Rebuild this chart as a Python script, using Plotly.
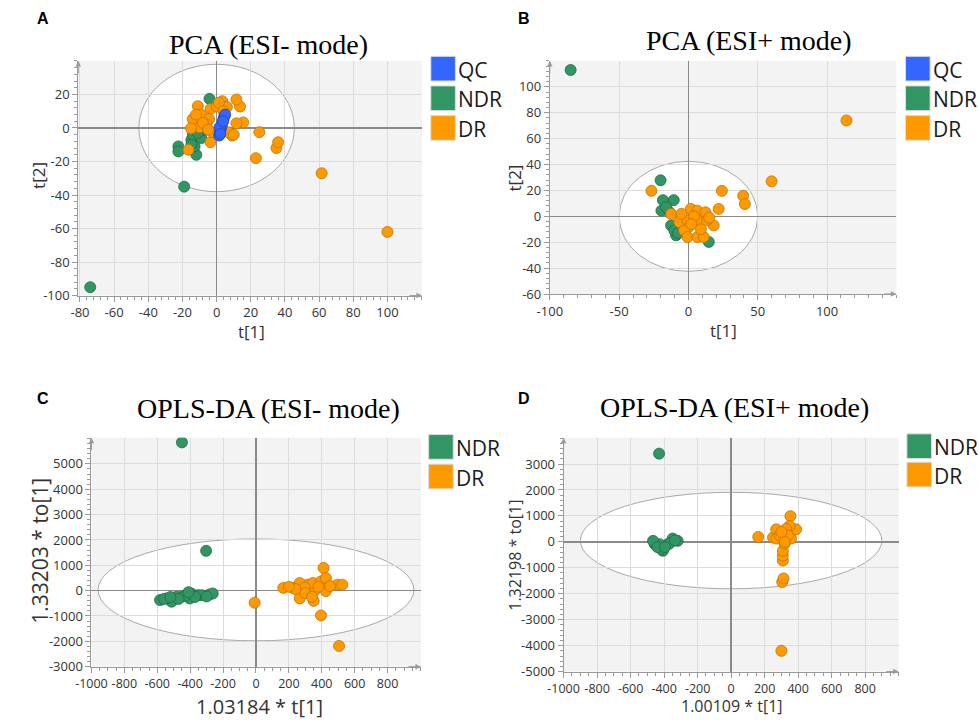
import plotly.graph_objects as go

# ---------------- DATA ----------------
# Panel A : PCA (ESI- mode)
A_NDR_x = [-74, -19, -4.2, -22.4, -22.4, -11.9, -14.8, -13.9, -10, -9, -12.9, -14.8, -7, -11]
A_NDR_y = [-95, -35, 17.4, -11, -14, -16, -7.1, -4.2, -3.2, -6, -11, -10, -1, -3]
A_DR_x = [100, 61.5, 23, 35, 36, 25, 15.6, 11.6, 13.7, 11.6, 3.3, 9, -16.5, -3.6, -11, -9.2,
          -3.5, 0, -14, -10, -15, -4.4, -2.5, 6, 1.3, 7, -6, -12, 4, 10, -8, -5]
A_DR_y = [-62, -27, -18, -12, -8.5, -2.5, 3.3, 2.8, 12.8, 17, 16, -4.5, -13, -8.5, 13, 8,
          11.4, 12.8, 5.3, 0.4, -0.2, 5.3, -2.5, 12.5, 15, -2.6, 2, 8, 10, -4, 3, -1]
A_QC_x = [1.5, 2, 2.5, 3, 3.5, 4, 4.5, 5, 1.8, 2.2, 3.8]
A_QC_y = [-4.5, -2.5, -0.5, 1.5, 3.5, 5.5, 7, 8, 0.5, -3.5, 4]

# Panel B : PCA (ESI+ mode)
B_NDR_x = [-85, -20.1, -18.4, -10.6, -19.5, -13.7, -12.5, -8.9, 14.7, -10.2, -16, -7.5]
B_NDR_y = [113, 27.8, 12.5, 12.5, 4.4, 3.1, -7, -14.7, -19.8, -10.9, 7, -13]
B_DR_x = [114, 60, 24.1, 39.5, 40.7, 21.8, -26.7, -12.5, -6.6, 1.7, 6.4, 12.3, 6.4, -0.7,
          18.2, 13.5, 0.5, -3.1, -0.7, 6.4, 11, 4, 9, -5, 2, 15]
B_DR_y = [74, 27, 19.7, 15.9, 9.5, 5.7, 19.7, 1.8, -4.5, 5.7, 4.4, 3.1, -2.9, -3,
          -7, -3, -8, -10.9, -16, -16, -16, 0, -10, 2, -6, -1]

# Panel C : OPLS-DA (ESI- mode)
C_NDR_x = [-450, -303, -583, -513, -453, -393, -353, -283, -263, -403, -483, -543, -330, -430,
           -560, -470, -370, -300, -520, -410]
C_NDR_y = [5850, 1570, -371, -437, -243, -114, -179, -153, -114, -308, -243, -308, -180, -200,
           -330, -330, -250, -230, -250, -60]
C_DR_x = [-8, 505, 395, 411, 166, 226, 266, 276, 316, 355, 351, 405, 425, 495, 525, 266,
          346, 396, 425, 296, 240, 380, 450, 300, 340, 200]
C_DR_y = [-476, -2184, -980, 895, 107, 107, -308, 236, 236, -17, -405, 236, -17, 235, 235, 300,
          300, 365, 495, 120, 60, 150, 180, -100, -250, 150]

# Panel D : OPLS-DA (ESI+ mode)
D_NDR_x = [-430, -456, -407, -378, -319, -349, -427, -417, -368, -466, -440, -395, -335]
D_NDR_y = [3400, -89, -343, -89, 38, 127, -89, -280, -63, 38, -200, -200, 60]
D_DR_x = [300, 305, 313, 309, 309, 309, 354, 162, 250, 269, 388, 349, 270, 309, 329, 358,
          319, 290, 339, 320, 300]
D_DR_y = [-4200, -1549, -1410, -724, -533, -350, 991, 190, 165, 483, 483, 610, 125, 250, 505, 125,
          -70, 250, 250, 0, 380]

# confidence ellipses (center x, center y, radius x, radius y)
A_ELL = [0, 0, 45.5, 38]
B_ELL = [0, 0, 50, 42.5]
C_ELL = [0, 30, 960, 2010]
D_ELL = [0, 50, 900, 1860]

# tick values
A_XT = [-80, -60, -40, -20, 0, 20, 40, 60, 80, 100]
A_YT = [-100, -80, -60, -40, -20, 0, 20]
B_XT = [-100, -50, 0, 50, 100]
B_YT = [-60, -40, -20, 0, 20, 40, 60, 80, 100]
C_XT = [-1000, -800, -600, -400, -200, 0, 200, 400, 600, 800]
C_YT = [-3000, -2000, -1000, 0, 1000, 2000, 3000, 4000, 5000]
D_XT = [-1000, -800, -600, -400, -200, 0, 200, 400, 600, 800]
D_YT = [-5000, -4000, -3000, -2000, -1000, 0, 1000, 2000, 3000]

# ---------------- STYLE ----------------
W, H = 979, 727
BLUE, BLUE_L = "#3366FF", "#2244BB"
GREEN, GREEN_L = "#329664", "#1E6B45"
ORANGE, ORANGE_L = "#FF9900", "#C27400"
GRID = "#DCDCDC"
ZERO = "#8A8A8A"
LINE = "#9A9A9A"
BG = "#F3F3F3"


def px(x):
    return x / W


def py(y):
    return 1 - y / H


def axis(dom, rng, tvals, minor_dtick, anchor, fsize=13):
    return dict(
        domain=dom, range=rng, tickmode="array", tickvals=tvals,
        ticktext=[str(v) for v in tvals], tickangle=0,
        showgrid=True, gridcolor=GRID, gridwidth=1,
        zeroline=True, zerolinecolor=ZERO, zerolinewidth=1.5,
        showline=True, linecolor=LINE, linewidth=1,
        ticks="outside", ticklen=5, tickcolor=LINE,
        minor=dict(ticks="outside", ticklen=3, tickcolor=LINE, dtick=minor_dtick,
                   tick0=0, showgrid=False),
        tickfont=dict(family="Open Sans", size=fsize, color="#333333"),
        anchor=anchor, fixedrange=True,
    )


fig = go.Figure()

panels = [
    ("x", "y", [(A_NDR_x, A_NDR_y, GREEN, GREEN_L), (A_DR_x, A_DR_y, ORANGE, ORANGE_L),
                (A_QC_x, A_QC_y, BLUE, BLUE_L)]),
    ("x2", "y2", [(B_NDR_x, B_NDR_y, GREEN, GREEN_L), (B_DR_x, B_DR_y, ORANGE, ORANGE_L)]),
    ("x3", "y3", [(C_NDR_x, C_NDR_y, GREEN, GREEN_L), (C_DR_x, C_DR_y, ORANGE, ORANGE_L)]),
    ("x4", "y4", [(D_NDR_x, D_NDR_y, GREEN, GREEN_L), (D_DR_x, D_DR_y, ORANGE, ORANGE_L)]),
]
for xa, ya, groups in panels:
    for xs, ys, c, lc in groups:
        fig.add_trace(go.Scatter(
            x=xs, y=ys, mode="markers", xaxis=xa, yaxis=ya, showlegend=False,
            marker=dict(size=11, color=c, line=dict(color=lc, width=0.8)),
            hoverinfo="skip"))

# ---------------- LAYOUT ----------------
dom = {
    "A": ([px(63.3), px(412.7)], [py(299.3), py(61.7)]),
    "B": ([px(542.7), px(895)], [py(297.7), py(61.7)]),
    "C": ([px(76.7), px(411.7)], [py(675), py(443.3)]),
    "D": ([px(556.7), px(897.3)], [py(680), py(443.3)]),
}

layout = dict(
    width=W, height=H, margin=dict(l=0, r=0, t=0, b=0),
    paper_bgcolor="white", plot_bgcolor=BG, showlegend=False,
    xaxis=axis(dom["A"][0], [-81, 120.2], A_XT, 4, "y"),
    yaxis=axis(dom["A"][1], [-100, 40], A_YT, 4, "x"),
    xaxis2=axis(dom["B"][0], [-100, 150], B_XT, 10, "y2"),
    yaxis2=axis(dom["B"][1], [-60, 120], B_YT, 4, "x2"),
    xaxis3=axis(dom["C"][0], [-1000, 1003], C_XT, 50, "y3", 12.5),
    yaxis3=axis(dom["C"][1], [-3000, 6030], C_YT, 200, "x3"),
    xaxis4=axis(dom["D"][0], [-1000, 1000], D_XT, 50, "y4", 12.5),
    yaxis4=axis(dom["D"][1], [-5000, 4010], D_YT, 200, "x4"),
)
fig.update_layout(**layout)

# ellipses
shapes = []
for (cx, cy, rx, ry), xr, yr in [(A_ELL, "x", "y"), (B_ELL, "x2", "y2"),
                                 (C_ELL, "x3", "y3"), (D_ELL, "x4", "y4")]:
    shapes.append(dict(type="circle", xref=xr, yref=yr, x0=cx - rx, x1=cx + rx,
                       y0=cy - ry, y1=cy + ry, fillcolor="white",
                       line=dict(color="#A8A8A8", width=1), layer="below"))

# legends (squares + labels)
ann = []
LEG = [
    (421.7, [57, 87, 117], ["QC", "NDR", "DR"], [BLUE, GREEN, ORANGE]),
    (904.3, [57, 87, 117], ["QC", "NDR", "DR"], [BLUE, GREEN, ORANGE]),
    (419.5, [440, 470], ["NDR", "DR"], [GREEN, ORANGE]),
    (905.7, [439.3, 468], ["NDR", "DR"], [GREEN, ORANGE]),
]
for x0, ys, labels, cols in LEG:
    for yy, lab, col in zip(ys, labels, cols):
        shapes.append(dict(type="rect", xref="paper", yref="paper",
                           x0=px(x0), x1=px(x0 + 25), y0=py(yy + 25), y1=py(yy),
                           fillcolor=col, line=dict(color="#DDDDDD", width=1)))
        ann.append(dict(xref="paper", yref="paper", x=px(x0 + 25.5), y=py(yy + 13.5),
                        text=lab, showarrow=False, xanchor="left", yanchor="middle",
                        font=dict(family="Open Sans", size=21, color="#1a1a1a")))
fig.update_layout(shapes=shapes)

# titles
TITLE_FONT = dict(family="Liberation Serif", size=28, color="black")
for txt, x, y in [("PCA (ESI- mode)", 256.7, 45), ("PCA (ESI+ mode)", 745, 41),
                  ("OPLS-DA (ESI- mode)", 256.7, 414), ("OPLS-DA (ESI+ mode)", 730, 413)]:
    ann.append(dict(xref="paper", yref="paper", x=px(x), y=py(y), text=txt,
                    showarrow=False, xanchor="center", yanchor="middle", font=TITLE_FONT))

# panel letters
for txt, x, y in [("A", 27, 19), ("B", 516, 19), ("C", 27.5, 404), ("D", 516, 403.5)]:
    ann.append(dict(xref="paper", yref="paper", x=px(x), y=py(y), text="<b>%s</b>" % txt,
                    showarrow=False, xanchor="center", yanchor="middle",
                    font=dict(family="Liberation Sans", size=16, color="black")))

# axis titles
for txt, x, y, sz, ang in [
    ("t[1]", 239, 336, 17, 0), ("t[2]", 23.5, 178, 17, -90),
    ("t[1]", 719, 335, 17, 0), ("t[2]", 507, 180, 17, -90),
    ("1.03184 * t[1]", 248, 715, 20, 0), ("1.33203 * to[1]", 25, 558, 21, -90),
    ("1.00109 * t[1]", 727.5, 715, 16, 0), ("1.32198 * to[1]", 507, 562, 16, -90),
]:
    ann.append(dict(xref="paper", yref="paper", x=px(x), y=py(y), text=txt,
                    showarrow=False, xanchor="center", yanchor="middle", textangle=ang,
                    font=dict(family="Open Sans", size=sz, color="#333333")))

# axis arrows
for xa, ya in [("x", "y"), ("x2", "y2"), ("x3", "y3"), ("x4", "y4")]:
    ann.append(dict(xref=xa + " domain", yref=ya + " domain", x=0, y=1.0, ax=0, ay=14,
                    text="", showarrow=True, arrowhead=2, arrowsize=1.1, arrowwidth=1,
                    arrowcolor=LINE))
    ann.append(dict(xref=xa + " domain", yref=ya + " domain", x=1.0, y=0, ax=-14, ay=0,
                    text="", showarrow=True, arrowhead=2, arrowsize=1.1, arrowwidth=1,
                    arrowcolor=LINE))

fig.update_layout(annotations=ann)
fig.write_html(
    "out.html",
    config={"displayModeBar": False, "staticPlot": True},
    post_script="document.body.style.margin='0';document.body.style.overflow='hidden';",
)
